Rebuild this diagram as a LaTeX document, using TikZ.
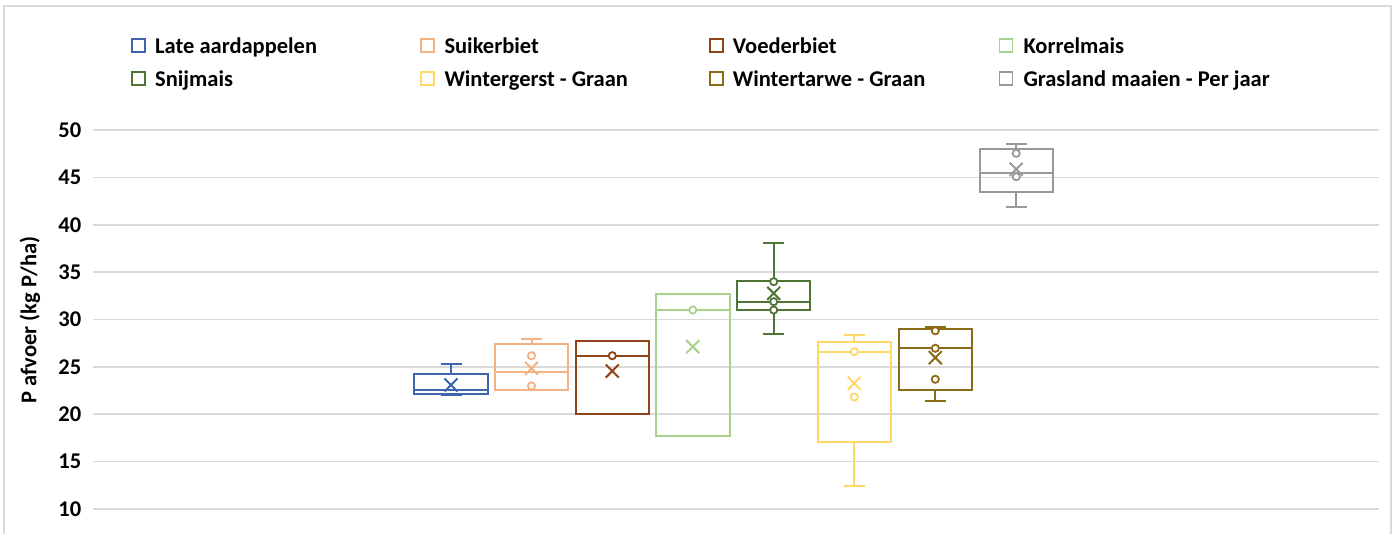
\documentclass[tikz,border=0pt]{standalone}
\usepackage{fontspec}
\setmainfont{Carlito}
\definecolor{cA}{HTML}{3E64AE}
\definecolor{cB}{HTML}{F4B183}
\definecolor{cC}{HTML}{8F4318}
\definecolor{cD}{HTML}{A9D18E}
\definecolor{cE}{HTML}{4E7536}
\definecolor{cF}{HTML}{FFD966}
\definecolor{cG}{HTML}{8B6B18}
\definecolor{cH}{HTML}{999999}
\definecolor{gridc}{HTML}{D9D9D9}
\tikzset{
  lbl/.style={font=\fontsize{22.5}{26}\selectfont\bfseries, text=black, inner sep=0pt},
  legsq/.style={draw, line width=1.6pt, minimum size=13pt, inner sep=0pt},
  gridline/.style={draw=gridc, line width=1.6pt},
  frameline/.style={draw=gridc, line width=1.4pt},
  bp/.style={line width=2pt}
}
% box plot: #1 colour, #2 centre x, #3 whisker low, #4 q1, #5 median, #6 q3, #7 whisker high, #8 mean, #9 points
\newcommand\boxplotdraw[9]{%
  \begin{scope}[bp, draw=#1]
    \draw (#2,#4) -- (#2,#3) (#2-10.5,#3) -- (#2+10.5,#3);
    \draw (#2,#6) -- (#2,#7) (#2-10.5,#7) -- (#2+10.5,#7);
    \draw (#2-36.7,#4) rectangle (#2+36.7,#6);
    \draw (#2-36.7,#5) -- (#2+36.7,#5);
    \foreach \p in {#9} {\draw[fill=white, line width=1.8pt] (#2,\p) circle[radius=3.6pt];}
    \draw (#2-6.5,{#8-0.69}) -- (#2+6.5,{#8+0.69}) (#2-6.5,{#8+0.69}) -- (#2+6.5,{#8-0.69});
  \end{scope}}
\begin{document}
\begin{tikzpicture}[x=1pt, y=1pt]
\useasboundingbox (0,0) rectangle (1397,534);
\draw[frameline] (4,-2) -- (4,528) -- (1391,528) -- (1391,-2);
% legend
\node[legsq, draw=cA] (s1) at (138.2,488.5) {};
\node[lbl, anchor=base west] (t1) at (155,480.7) {Late aardappelen};
\node[legsq, draw=cB] (s2) at (427.5,488.5) {};
\node[lbl, anchor=base west] (t2) at (444.3,480.7) {Suikerbiet};
\node[legsq, draw=cC] (s3) at (716.2,488.5) {};
\node[lbl, anchor=base west] (t3) at (732.7,480.7) {Voederbiet};
\node[legsq, draw=cD] (s4) at (1005.8,488.5) {};
\node[lbl, anchor=base west] (t4) at (1023.3,480.7) {Korrelmais};
\node[legsq, draw=cE] (s5) at (138.2,455.2) {};
\node[lbl, anchor=base west] (t5) at (155,447.3) {Snijmais};
\node[legsq, draw=cF] (s6) at (427.5,455.2) {};
\node[lbl, anchor=base west] (t6) at (444.3,447.3) {Wintergerst - Graan};
\node[legsq, draw=cG] (s7) at (716.2,455.2) {};
\node[lbl, anchor=base west] (t7) at (732.7,447.3) {Wintertarwe - Graan};
\node[legsq, draw=cH] (s8) at (1005.8,455.2) {};
\node[lbl, anchor=base west] (t8) at (1023.3,447.3) {Grasland maaien - Per jaar};
% axis title
\node[lbl, rotate=90] (ytitle) at (30,214) {P afvoer (kg P/ha)};
\begin{scope}[x=1pt, y=9.475pt, shift={(0pt,-69.75pt)}]
  \foreach \v in {10,15,...,50} {
    \draw[gridline] (93,\v) -- (1379,\v);
    \node[lbl, anchor=east] (y\v) at (81.5,\v) {\v};
  }
  \boxplotdraw{cA}{451}{22.03}{22.13}{22.58}{24.24}{25.27}{23.09}{}
  \boxplotdraw{cB}{531.5}{22.55}{22.6}{24.5}{27.45}{27.9}{24.85}{26.18,22.98}
  \boxplotdraw{cC}{612.3}{20.03}{20.03}{26.18}{27.76}{27.76}{24.56}{26.18}
  \boxplotdraw{cD}{692.8}{17.7}{17.7}{31.0}{32.69}{32.69}{27.13}{31.0}
  \boxplotdraw{cE}{773.7}{28.47}{31.0}{31.88}{34.06}{38.04}{32.76}{33.99,31.88,31.0}
  \boxplotdraw{cF}{854.3}{12.46}{17.1}{26.6}{27.62}{28.36}{23.27}{26.6,21.82}
  \boxplotdraw{cG}{935.3}{21.36}{22.53}{26.96}{29.03}{29.18}{25.97}{28.81,26.96,23.69}
  \boxplotdraw{cH}{1016.2}{41.9}{43.49}{45.49}{48.03}{48.52}{45.85}{47.53,45.07}
\end{scope}
\end{tikzpicture}
\end{document}
